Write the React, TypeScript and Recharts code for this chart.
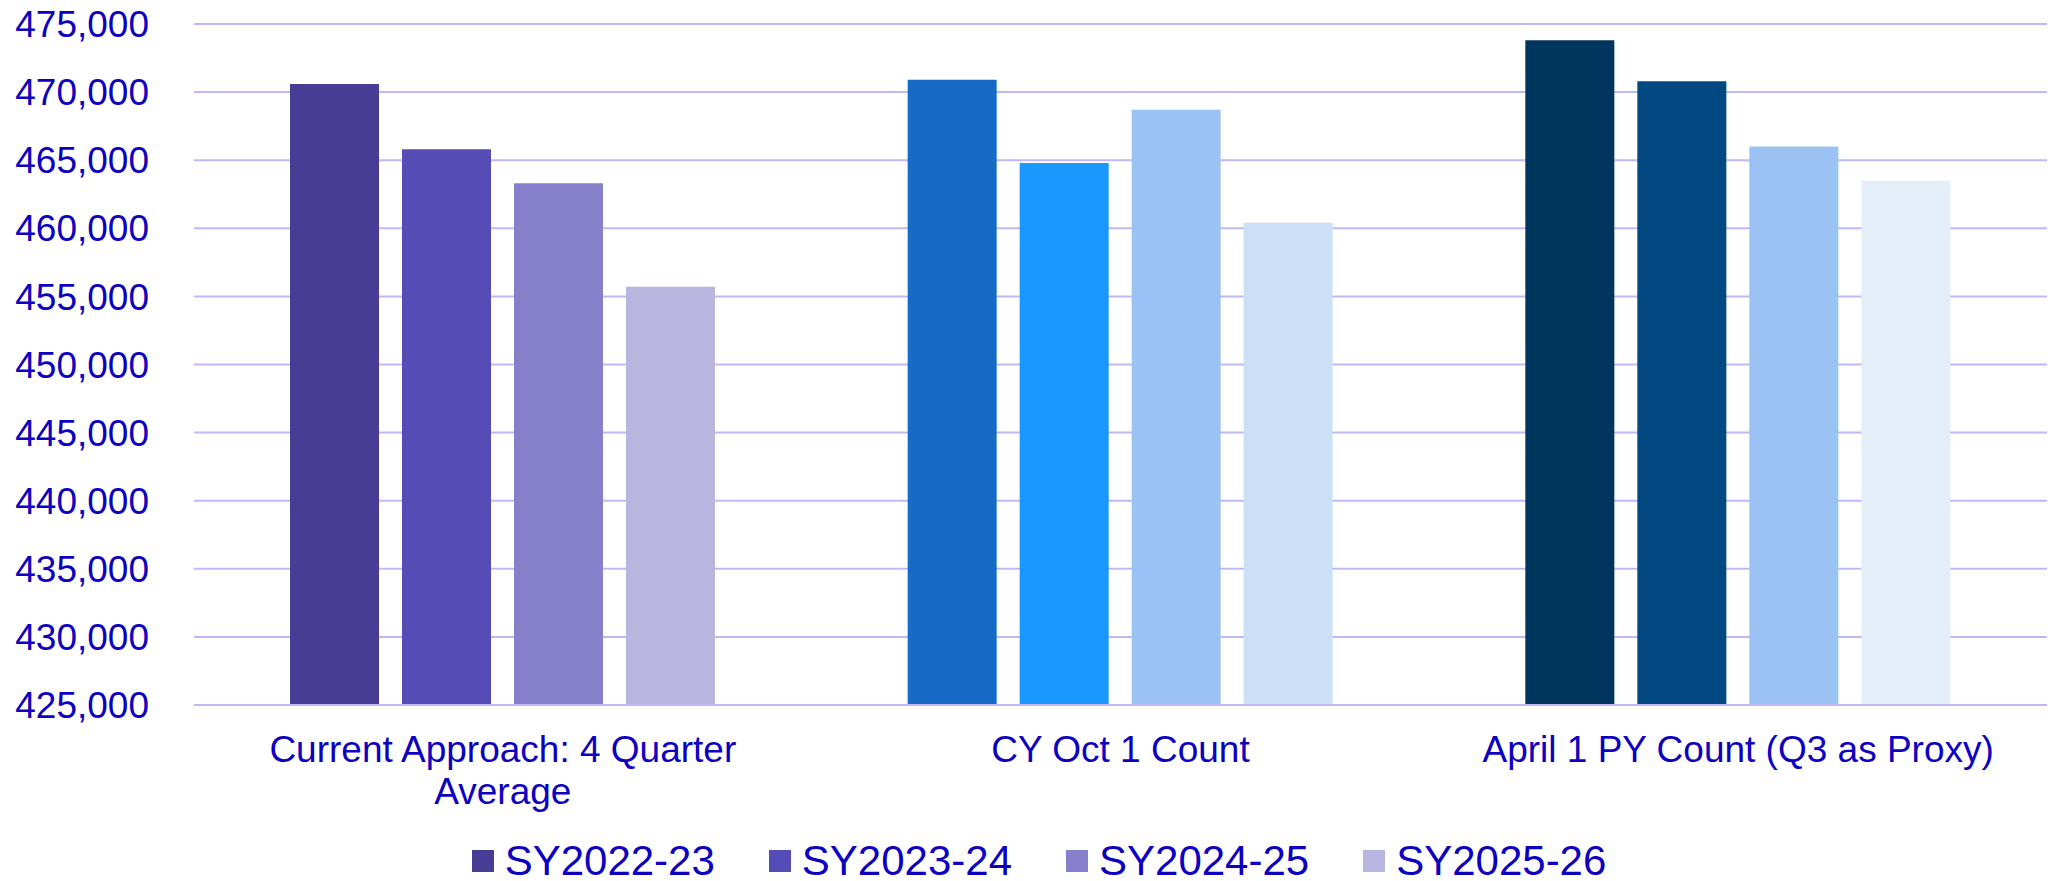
import React from 'react';
import { BarChart, Bar, XAxis, YAxis, CartesianGrid, Legend, Cell } from 'recharts';

const categories = [
  'Current Approach: 4 Quarter Average',
  'CY Oct 1 Count',
  'April 1 PY Count (Q3 as Proxy)',
];
const seriesNames = ['SY2022-23', 'SY2023-24', 'SY2024-25', 'SY2025-26'];
const sy2022 = [470600, 470900, 473800];
const sy2023 = [465800, 464800, 470800];
const sy2024 = [463300, 468700, 466000];
const sy2025 = [455700, 460400, 463500];
const yTicks = [425000, 430000, 435000, 440000, 445000, 450000, 455000, 460000, 465000, 470000, 475000];

// colours per series, per category
const palette = [
  ['#483D95', '#176BC7', '#00365E'],
  ['#564CB5', '#1B98FF', '#024881'],
  ['#8680CB', '#9AC3F3', '#9AC3F3'],
  ['#B8B5DE', '#CBE0F7', '#E4EEF8'],
];

const TEXT = '#0D00C0';
const GRID = '#BEB8F8';
const FONT = '"Liberation Sans", Arial, sans-serif';

const data = categories.map((c, i) => ({
  name: c,
  s0: sy2022[i],
  s1: sy2023[i],
  s2: sy2024[i],
  s3: sy2025[i],
}));

function wrapText(text: string, maxWidth: number, font: string): string[] {
  const canvas = document.createElement('canvas');
  const ctx = canvas.getContext('2d');
  const words = text.split(' ');
  const lines: string[] = [];
  let cur = '';
  for (const w of words) {
    const test = cur ? cur + ' ' + w : w;
    const width = ctx ? (ctx.font = font, ctx.measureText(test).width) : test.length * 20;
    if (width > maxWidth && cur) {
      lines.push(cur);
      cur = w;
    } else {
      cur = test;
    }
  }
  if (cur) lines.push(cur);
  return lines;
}

const XTick = (props: any) => {
  const { x, y, payload } = props;
  const lines = wrapText(String(payload.value), 560, '37px "Liberation Sans"');
  return (
    <text x={x} y={y} textAnchor="middle" fill={TEXT} fontSize={37} fontFamily={FONT}>
      {lines.map((l, i) => (
        <tspan key={i} x={x} dy={i === 0 ? 57 : 41.5}>
          {l}
        </tspan>
      ))}
    </text>
  );
};

const LegendContent = (props: any) => {
  const { payload } = props;
  return (
    <div
      style={{
        display: 'flex',
        justifyContent: 'center',
        alignItems: 'center',
        height: 40,
        width: 2050,
        paddingLeft: 28,
        boxSizing: 'border-box',
        fontFamily: FONT,
      }}
    >
      {(payload || []).map((p: any, i: number) => (
        <div
          key={i}
          style={{
            display: 'flex',
            alignItems: 'center',
            marginRight: i < payload.length - 1 ? 54 : 0,
          }}
        >
          <div style={{ width: 22, height: 22, background: p.color, marginRight: 11 }} />
          <span style={{ fontSize: 42, color: TEXT, lineHeight: '40px', whiteSpace: 'nowrap' }}>{p.value}</span>
        </div>
      ))}
    </div>
  );
};

export default function App() {
  const keys = ['s0', 's1', 's2', 's3'];
  return (
    <div style={{ position: 'absolute', left: 0, top: 0, width: 2050, height: 881, background: '#fff' }}>
      <BarChart
        width={2050}
        height={881}
        data={data}
        margin={{ top: 24, right: 3, bottom: 0, left: 0 }}
        barSize={89}
        barGap={23}
      >
        <CartesianGrid vertical={false} stroke={GRID} strokeWidth={2} />
        <XAxis
          dataKey="name"
          height={136}
          interval={0}
          tick={<XTick />}
          tickLine={false}
          tickSize={0}
          tickMargin={0}
          axisLine={{ stroke: GRID, strokeWidth: 2 }}
        />
        <YAxis
          width={194}
          domain={[425000, 475000]}
          ticks={yTicks}
          allowDataOverflow
          tickFormatter={(v: number) => v.toLocaleString('en-US')}
          tick={{ fill: TEXT, fontSize: 37, fontFamily: FONT }}
          tickLine={false}
          tickSize={0}
          tickMargin={45}
          axisLine={false}
        />
        <Legend verticalAlign="bottom" content={<LegendContent />} wrapperStyle={{ left: 0, width: 2050 }} />
        {keys.map((k, si) => (
          <Bar key={k} dataKey={k} name={seriesNames[si]} fill={palette[si][0]} isAnimationActive={false}>
            {data.map((_, ci) => (
              <Cell key={ci} fill={palette[si][ci]} />
            ))}
          </Bar>
        ))}
      </BarChart>
    </div>
  );
}
